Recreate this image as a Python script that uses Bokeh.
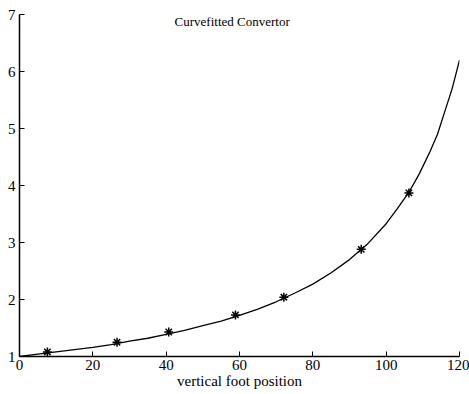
from bokeh.plotting import figure
from bokeh.models import Range1d, Label, FixedTicker
from bokeh.embed import file_html
from bokeh.resources import INLINE

# fitted curve
curve_x = [0, 5, 10, 15, 20, 25, 30, 35, 40, 45, 50, 55, 60, 65, 70, 75, 80, 85, 90,
           95, 100, 103, 106, 109, 112, 114, 116, 118, 120]
curve_y = [1.00, 1.04, 1.08, 1.12, 1.16, 1.21, 1.27, 1.32, 1.39, 1.46, 1.54, 1.62, 1.72,
           1.83, 1.96, 2.11, 2.27, 2.47, 2.70, 2.98, 3.33, 3.59, 3.86, 4.20, 4.60, 4.90,
           5.30, 5.70, 6.20]

# measured points
pts_x = [7.6, 26.6, 40.7, 58.9, 72.1, 93.2, 106.2]
pts_y = [1.08, 1.25, 1.43, 1.73, 2.04, 2.88, 3.87]

x_ticks = [0, 20, 40, 60, 80, 100, 120]
y_ticks = [1, 2, 3, 4, 5, 6, 7]

title_text = "Curvefitted Convertor"
x_label = "vertical foot position"

FONT = "Liberation Serif"

p = figure(width=469, height=391, output_backend="svg", toolbar_location=None,
           x_range=Range1d(0, 120), y_range=Range1d(1, 7),
           min_border_left=19, min_border_right=10, min_border_top=14, min_border_bottom=0)
p.outline_line_color = None
p.xgrid.visible = False
p.ygrid.visible = False
p.background_fill_color = "white"

for ax in (p.xaxis[0], p.yaxis[0]):
    ax.axis_line_color = "black"
    ax.axis_line_width = 1.5
    ax.major_tick_in = 5
    ax.major_tick_out = 0
    ax.minor_tick_in = 0
    ax.minor_tick_out = 0
    ax.major_tick_line_color = "black"
    ax.major_tick_line_width = 1
    ax.major_label_text_font = FONT
    ax.major_label_text_font_size = "15px"
    ax.major_label_text_color = "black"

p.xaxis.ticker = FixedTicker(ticks=x_ticks)
p.yaxis.ticker = FixedTicker(ticks=y_ticks)
p.xaxis.major_label_standoff = 3
p.yaxis.major_label_standoff = 4
p.xaxis.axis_label = x_label
p.xaxis.axis_label_text_font = FONT
p.xaxis.axis_label_text_font_size = "15px"
p.xaxis.axis_label_text_font_style = "normal"
p.xaxis.axis_label_text_color = "black"
p.xaxis.axis_label_standoff = 0

p.line(curve_x, curve_y, line_color="black", line_width=1.3)
p.scatter(pts_x, pts_y, marker="asterisk", size=9, line_color="black", line_width=1.5)

p.add_layout(Label(x=58, y=7, text=title_text, text_align="center", text_baseline="top",
                   y_offset=1, text_font=FONT, text_font_size="13px", text_color="black"))

open("out.html", "w").write(file_html(p, INLINE))
